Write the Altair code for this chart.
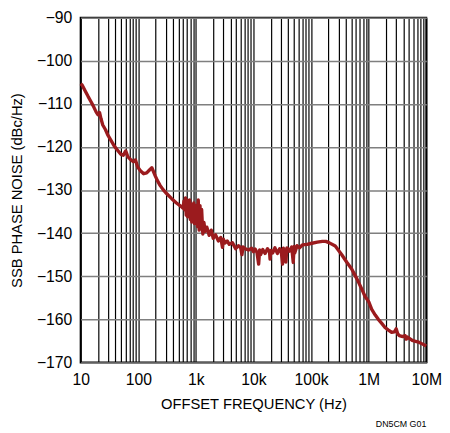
import altair as alt
import pandas as pd

freq = [
    10, 10.6, 12, 13.5, 15.3, 17, 18.6, 20, 21.3, 22.5, 24.2, 27, 29.5, 33, 38.4, 44, 49.8, 55, 60.6, 66,
    73.6, 82, 89.6, 97, 109, 124, 140, 155, 172, 185, 197, 215, 239, 270, 310, 380, 460, 530, 600,
    620, 640, 660, 680, 700, 720, 740, 760, 780, 800, 820, 850, 870, 890, 920, 950, 980, 1010, 1040, 1070,
    1100, 1140, 1180, 1220, 1260, 1320, 1380, 1450, 1550, 1700, 1850, 2000, 2200, 2450, 2700, 2900, 3000,
    3200, 3500, 3800, 4300, 4900, 5500, 6000, 6300, 6600, 7100, 8200, 9300, 10000, 10700, 11500, 12300,
    12800, 13300, 14500, 15900, 17500, 19000, 19400, 20000, 21500, 23600, 26000, 28500, 30500, 32000,
    33000, 35000, 36500, 38000, 42000, 46000, 49000, 50800, 52000, 57000, 63000, 71400, 85000, 98800,
    128000, 157000, 180000, 204000, 263000, 341000, 420000, 507000, 580000, 662000, 760000, 865000,
    1000000, 1130000, 1300000, 1470000, 1700000, 1920000, 2200000, 2500000, 2800000, 3000000, 3200000,
    3400000, 3900000, 4300000, 4500000, 4700000, 5700000, 6500000, 7400000, 8500000, 10000000,
]
noise = [
    -105.3, -105.6, -107.0, -108.3, -109.6, -110.8, -111.9, -112.5, -112.0, -113.4, -114.9, -116.0, -117.2,
    -118.3, -119.8, -120.8, -121.7, -121.9, -120.9, -122.3, -122.9, -123.4, -123.0, -124.6, -125.5, -126.2,
    -126.0, -125.4, -124.8, -125.8, -126.7, -127.8, -128.9, -129.9, -130.8, -132.0, -133.0, -133.6, -134.2,
    -132.6, -134.6, -131.8, -135.8, -132.3, -136.2, -133.0, -135.0, -132.3, -136.8, -133.2, -137.4, -134.0,
    -136.5, -133.0, -137.8, -134.5, -137.0, -133.5, -138.5, -132.3, -139.3, -133.6, -139.0, -134.5, -140.2,
    -137.5, -139.6, -138.6, -140.5, -139.3, -141.2, -140.4, -141.8, -141.0, -143.3, -141.4, -142.3, -141.8,
    -142.6, -142.2, -143.6, -142.9, -143.4, -145.0, -143.2, -143.6, -143.9, -143.5, -144.3, -143.7, -144.5,
    -147.2, -143.9, -145.0, -143.8, -144.7, -143.6, -144.4, -146.0, -144.0, -144.6, -143.4, -144.7, -143.6,
    -144.5, -147.2, -143.5, -145.0, -146.7, -143.4, -144.2, -143.2, -146.8, -143.1, -144.6, -142.9, -143.4,
    -142.7, -142.6, -142.4, -142.1, -141.9, -141.9, -142.2, -143.0, -145.0, -146.8, -148.3, -149.8, -151.3,
    -153.0, -154.7, -155.9, -157.7, -159.0, -160.0, -161.0, -161.9, -162.5, -163.0, -162.9, -162.2, -163.4,
    -163.8, -164.0, -163.8, -164.6, -164.1, -164.9, -165.1, -165.3, -165.7, -166.2,
]

x_grid = [m * 10 ** d for d in range(1, 7) for m in range(1, 10)] + [10000000]
x_labels = {10: "10", 100: "100", 1000: "1k", 10000: "10k", 100000: "100k", 1000000: "1M", 10000000: "10M"}
y_ticks = list(range(-170, -89, 10))

label_expr = " : ".join(f"datum.value == {k} ? '{v}'" for k, v in x_labels.items()) + " : ''"

FONT = "Liberation Sans"
df = pd.DataFrame({"freq": freq, "noise": noise})

line = alt.Chart(df).mark_line(color="#9B1B1E", strokeWidth=3.4, strokeJoin="round").encode(
    x=alt.X("freq:Q", scale=alt.Scale(type="log", domain=[10, 10000000], nice=False),
            axis=alt.Axis(values=x_grid, labelExpr=label_expr, grid=True, gridColor="#000000",
                          gridWidth=1.2, gridOpacity=1, ticks=False, domain=False,
                          labelPadding=10, labelFontSize=16, labelColor="#000", labelFont=FONT,
                          labelFlush=False, labelOverlap=False,
                          title="OFFSET FREQUENCY (Hz)", titleFont=FONT, titleFontSize=15,
                          titleFontWeight="normal", titleColor="#000", titlePadding=9)),
    y=alt.Y("noise:Q", scale=alt.Scale(domain=[-170, -90], nice=False),
            axis=alt.Axis(values=y_ticks, labelExpr="replace(datum.label, '-', '\u2212')",
                          grid=True, gridColor="#7f7f7f", gridWidth=1.5, ticks=False, domain=False,
                          labelPadding=9, labelFontSize=16, labelColor="#000", labelFont=FONT,
                          labelFlush=False,
                          title="SSB PHASE NOISE (dBc/Hz)", titleFont=FONT, titleFontSize=15,
                          titleFontWeight="normal", titleColor="#000", titlePadding=12)),
)

note = alt.Chart(pd.DataFrame({"t": ["DN5CM G01"]})).mark_text(
    font=FONT, fontSize=9, align="right", baseline="bottom", color="#000"
).encode(text="t:N", x=alt.value(352), y=alt.value(419))

chart = (line + note).properties(
    width=352, height=351,
    autosize=alt.AutoSizeParams(type="none"),
    padding={"left": 74, "top": 6, "right": 16, "bottom": 70},
).configure_view(stroke="#000000", strokeWidth=2)

chart.save("out.html", embed_options={"renderer": "svg", "actions": False})
